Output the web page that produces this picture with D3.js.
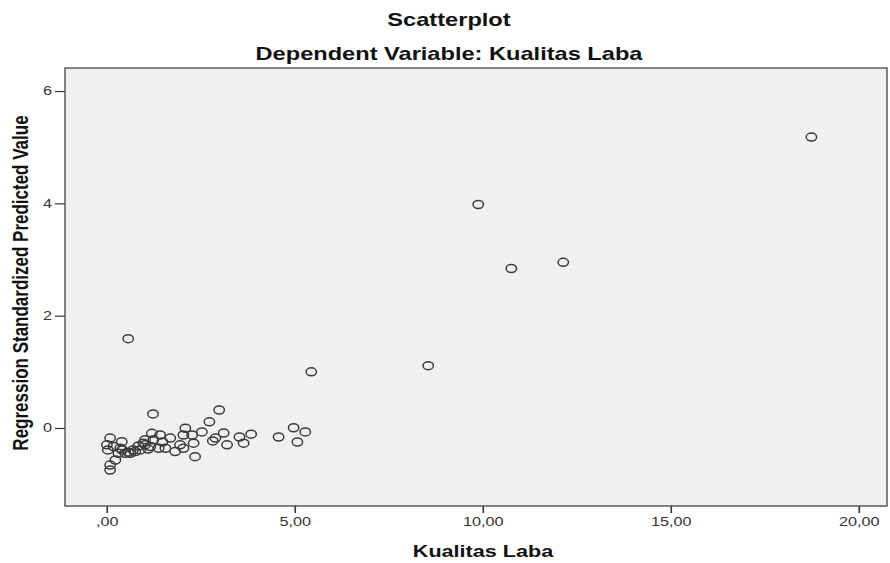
<!DOCTYPE html>
<html>
<head>
<meta charset="utf-8">
<script src="https://cdn.jsdelivr.net/npm/d3@7"></script>
<style>
  html, body { margin: 0; padding: 0; background: #ffffff; }
  svg { display: block; font-family: "Liberation Sans", Arial, sans-serif; }
</style>
</head>
<body>
<svg id="chart" width="890" height="563"></svg>
<script>
const titleText = "Scatterplot";
const subtitleText = "Dependent Variable: Kualitas Laba";
const xLabel = "Kualitas Laba";
const yLabel = "Regression Standardized Predicted Value";

const xTicks = [0, 5, 10, 15, 20];
const xTickLabels = [",00", "5,00", "10,00", "15,00", "20,00"];
const yTicks = [0, 2, 4, 6];
const yTickLabels = ["0", "2", "4", "6"];

// Kualitas Laba (x) values
const xValues = [
  18.74, 9.88, 10.76, 12.14, 8.55, 5.44, 0.57,
  1.23, 2.99, 2.73, 2.09, 2.53, 3.11, 3.53, 3.84, 4.57, 4.97, 5.28, 5.07,
  3.20, 3.64, 2.89, 2.82, 2.35, 2.31, 2.27, 2.04, 1.69, 1.42, 1.20, 1.24,
  1.95, 2.04, 1.82, 1.56, 1.38, 1.16, 1.02, 1.02,
  0.09, 0.40, 0.005, 0.18, 0.03, 0.23, 0.09, 0.09, 0.31, 0.49, 0.63, 0.76,
  0.89, 1.10, 0.57, 0.70, 0.41, 0.36, 0.84, 0.97, 1.48
];
// Regression Standardized Predicted Value (y) values
const yValues = [
  5.18, 3.98, 2.84, 2.95, 1.11, 1.00, 1.59,
  0.25, 0.32, 0.11, -0.005, -0.07, -0.09, -0.16, -0.11, -0.16, 0.005, -0.07, -0.25,
  -0.30, -0.27, -0.18, -0.23, -0.51, -0.27, -0.125, -0.125, -0.18, -0.125, -0.095, -0.21,
  -0.30, -0.36, -0.42, -0.36, -0.36, -0.33, -0.21, -0.30,
  -0.18, -0.245, -0.30, -0.33, -0.39, -0.57, -0.66, -0.75, -0.45, -0.45, -0.45, -0.42,
  -0.39, -0.375, -0.43, -0.39, -0.39, -0.36, -0.32, -0.27, -0.25
];

const svg = d3.select("#chart");
const plot = { left: 65, top: 68, right: 887, bottom: 506 };
const stretch = 1.35;

const x = d3.scaleLinear().domain([-1.11, 20.75]).range([plot.left, plot.right]);
const y = d3.scaleLinear().domain([-1.389, 6.41]).range([plot.bottom, plot.top]);

// plot background
svg.append("rect")
  .attr("x", plot.left).attr("y", plot.top)
  .attr("width", plot.right - plot.left).attr("height", plot.bottom - plot.top)
  .attr("fill", "#f0f0f0").attr("stroke", "#333").attr("stroke-width", 1.2);

// titles
svg.append("text")
  .attr("transform", `translate(449,26) scale(${stretch},1)`)
  .attr("text-anchor", "middle").attr("font-weight", "bold").attr("font-size", 17.5)
  .attr("fill", "#111").text(titleText);
svg.append("text")
  .attr("transform", `translate(449,60) scale(${stretch},1)`)
  .attr("text-anchor", "middle").attr("font-weight", "bold").attr("font-size", 17.5)
  .attr("fill", "#111").text(subtitleText);

// x axis
const xAxis = d3.axisBottom(x)
  .tickValues(xTicks)
  .tickSize(7).tickPadding(4)
  .tickFormat((d, i) => xTickLabels[i]);
const gx = svg.append("g").attr("transform", `translate(0,${plot.bottom})`).call(xAxis);
gx.select(".domain").remove();
gx.selectAll(".tick line").attr("stroke", "#333").attr("stroke-width", 1.6);
gx.selectAll(".tick text")
  .attr("font-size", 12).attr("fill", "#333").attr("font-family", "Liberation Sans, Arial, sans-serif")
  .attr("transform", `scale(${stretch},1)`);

// y axis
const yAxis = d3.axisLeft(y)
  .tickValues(yTicks)
  .tickSize(10).tickPadding(3)
  .tickFormat((d, i) => yTickLabels[i]);
const gy = svg.append("g").attr("transform", `translate(${plot.left},0)`).call(yAxis);
gy.select(".domain").remove();
gy.selectAll(".tick line").attr("stroke", "#333").attr("stroke-width", 1.2);
gy.selectAll(".tick text")
  .attr("font-size", 12).attr("fill", "#333").attr("font-family", "Liberation Sans, Arial, sans-serif")
  .attr("text-anchor", "middle")
  .attr("x", -17.5 / stretch)
  .attr("transform", `scale(${stretch},1)`);

// axis labels
svg.append("text")
  .attr("transform", `translate(483,557) scale(${stretch},1)`)
  .attr("text-anchor", "middle").attr("font-weight", "bold").attr("font-size", 16)
  .attr("fill", "#111").text(xLabel);
svg.append("text")
  .attr("transform", `translate(28,283) scale(${stretch},1) rotate(-90)`)
  .attr("text-anchor", "middle").attr("font-weight", "bold").attr("font-size", 17)
  .attr("fill", "#111").text(yLabel);

// points
const pts = xValues.map((v, i) => ({ x: v, y: yValues[i] }));
svg.append("g").selectAll("ellipse").data(pts).enter().append("ellipse")
  .attr("cx", d => x(d.x)).attr("cy", d => y(d.y))
  .attr("rx", 5.2).attr("ry", 4)
  .attr("fill", "none").attr("stroke", "#3a3a3a").attr("stroke-width", 1.5);
</script>
</body>
</html>
